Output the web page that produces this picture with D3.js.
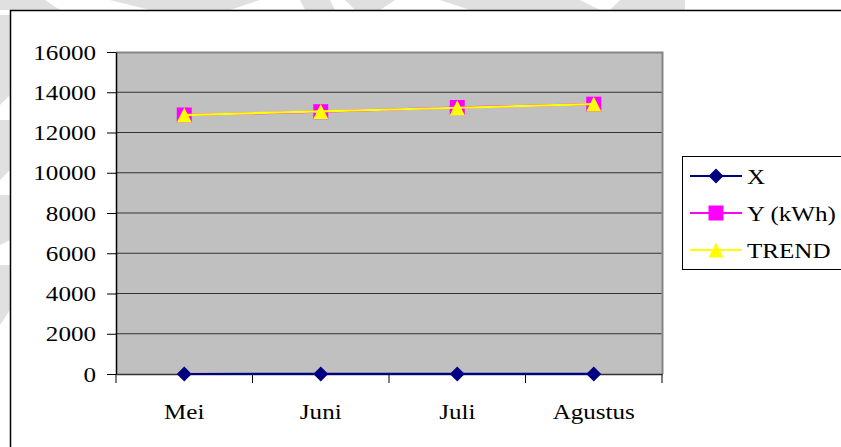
<!DOCTYPE html>
<html>
<head>
<meta charset="utf-8">
<script src="https://cdn.jsdelivr.net/npm/d3@7"></script>
<style>
  html, body { margin: 0; padding: 0; background: #ffffff; }
  svg { display: block; }
  svg text { font-family: "Liberation Serif", "Times New Roman", Times, serif !important; fill: #000; }
</style>
</head>
<body>
<svg id="chart" width="841" height="447"></svg>
<script>
const categories = ["Mei", "Juni", "Juli", "Agustus"];
const xValues = [1, 2, 3, 4];
const yValues = [12870, 13034, 13242, 13408];
const trendValues = [12865, 13047, 13230, 13412];
const yTicks = [0, 2000, 4000, 6000, 8000, 10000, 12000, 14000, 16000];
const seriesNames = ["X", "Y (kWh)", "TREND"];

const svg = d3.select("#chart");
const W = 841, H = 447;
const plot = { left: 116, top: 52, right: 662, bottom: 374 };
const fontSize = 22;
const STRETCH = 1.14;
const FONT = "'Liberation Serif', 'Times New Roman', Times, serif";

function stretchText(sel) {
  sel.each(function () {
    const w = this.getComputedTextLength();
    if (w > 0) {
      d3.select(this).attr("textLength", w * STRETCH).attr("lengthAdjust", "spacingAndGlyphs");
    }
  });
}

// faint background watermark outside chart box
const wm = svg.append("g").attr("fill", "#e0e0e0");
wm.append("path").attr("d", "M0,0H45L60,10H0Z");
wm.append("path").attr("d", "M110,0H260L230,10H150Z");
wm.append("path").attr("d", "M300,0H330L335,10H305Z");
wm.append("path").attr("d", "M345,0H395L380,10H355Z");
wm.append("path").attr("d", "M440,0H580L600,10H470Z");
wm.append("path").attr("d", "M620,0H685V10H610Z");
wm.append("path").attr("d", "M0,15H10V95L0,105Z");
wm.append("path").attr("d", "M0,120H10V170L0,180Z");
wm.append("path").attr("d", "M0,195H10V240L0,245Z");
wm.append("path").attr("d", "M0,265H10V310L0,325Z");

// chart box
svg.append("rect")
  .attr("x", 10.5).attr("y", 10.5)
  .attr("width", W + 20).attr("height", H + 20)
  .attr("fill", "#ffffff").attr("stroke", "#000").attr("stroke-width", 1.5);

const x = d3.scaleBand().domain(categories).range([plot.left, plot.right]);
const y = d3.scaleLinear().domain([0, 16000]).range([plot.bottom, plot.top]);
const cx = c => x(c) + x.bandwidth() / 2;

// plot background
svg.append("rect")
  .attr("x", plot.left).attr("y", plot.top)
  .attr("width", plot.right - plot.left).attr("height", plot.bottom - plot.top)
  .attr("fill", "#c0c0c0");

// gridlines
svg.append("g").selectAll("line")
  .data(yTicks.filter(t => t > 0 && t < 16000))
  .join("line")
  .attr("x1", plot.left).attr("x2", plot.right)
  .attr("y1", d => y(d)).attr("y2", d => y(d))
  .attr("stroke", "#333333").attr("stroke-width", 1.2);

// plot border top/right (gray)
svg.append("path")
  .attr("d", `M${plot.left},${plot.top + 0.5}H${plot.right + 0.5}V${plot.bottom}`)
  .attr("fill", "none").attr("stroke", "#868686").attr("stroke-width", 2);

// y axis
const yAxis = svg.append("g")
  .attr("transform", `translate(${plot.left},0)`)
  .call(d3.axisLeft(y).tickValues(yTicks).tickSize(9).tickSizeOuter(0).tickPadding(11).tickFormat(d3.format("d")))
  .attr("font-family", FONT).attr("font-size", fontSize);
yAxis.select(".domain").attr("stroke", "#000").attr("stroke-width", 1.5);
yAxis.selectAll(".tick line").attr("stroke", "#000").attr("stroke-width", 1);
yAxis.selectAll("text").attr("fill", "#000").call(stretchText);

// x axis
const xAxis = svg.append("g")
  .attr("transform", `translate(0,${plot.bottom})`)
  .call(d3.axisBottom(x).tickSize(0).tickSizeOuter(0).tickPadding(29))
  .attr("font-family", FONT).attr("font-size", fontSize);
xAxis.select(".domain").attr("stroke", "#333").attr("stroke-width", 1.5);
xAxis.selectAll("text").attr("fill", "#000").call(stretchText);
const boundaries = categories.map(c => x(c)).concat([x(categories[categories.length - 1]) + x.bandwidth()]);
svg.append("g").selectAll("line").data(boundaries).join("line")
  .attr("x1", d => d).attr("x2", d => d)
  .attr("y1", plot.bottom).attr("y2", plot.bottom + 9)
  .attr("stroke", "#000").attr("stroke-width", 1);

// marker helpers
const diamond = (px, py, s) => `M${px},${py - s}L${px + s},${py}L${px},${py + s}L${px - s},${py}Z`;
const square = (px, py, s) => `M${px - s},${py - s}H${px + s}V${py + s}H${px - s}Z`;
const triangle = (px, py, s) => `M${px},${py - s}L${px + s},${py + s}L${px - s},${py + s}Z`;

const series = [
  { name: seriesNames[0], values: xValues, color: "#000080", width: 2.2, marker: diamond, mfill: "#000080", ms: 7.5 },
  { name: seriesNames[1], values: yValues, color: "#ff00ff", width: 2.2, marker: square, mfill: "#ff00ff", ms: 7.5 },
  { name: seriesNames[2], values: trendValues, color: "#ffff00", width: 2.2, marker: triangle, mfill: "#ffff00", ms: 7.5 }
];

const line = d3.line().x(d => cx(d.c)).y(d => y(d.v));

series.forEach(s => {
  const pts = categories.map((c, i) => ({ c, v: s.values[i] }));
  svg.append("path").datum(pts)
    .attr("d", line).attr("fill", "none")
    .attr("stroke", s.color).attr("stroke-width", s.width);
  svg.append("g").selectAll("path").data(pts).join("path")
    .attr("d", d => s.marker(cx(d.c), y(d.v), s.ms))
    .attr("fill", s.mfill);
});

// legend
const lg = svg.append("g").attr("font-family", FONT).attr("font-size", fontSize);
lg.append("rect")
  .attr("x", 682.5).attr("y", 156.5).attr("width", 200).attr("height", 113)
  .attr("fill", "#fff").attr("stroke", "#000").attr("stroke-width", 1);
const rowsY = [176, 213, 250];
series.forEach((s, i) => {
  const ry = rowsY[i];
  lg.append("line").attr("x1", 690).attr("x2", 742).attr("y1", ry).attr("y2", ry)
    .attr("stroke", s.color).attr("stroke-width", 2.2);
  lg.append("path").attr("d", s.marker(716, ry, s.ms)).attr("fill", s.mfill);
  lg.append("text").attr("x", 747).attr("y", ry).attr("dy", "0.35em").text(s.name).call(stretchText);
});
</script>
</body>
</html>
